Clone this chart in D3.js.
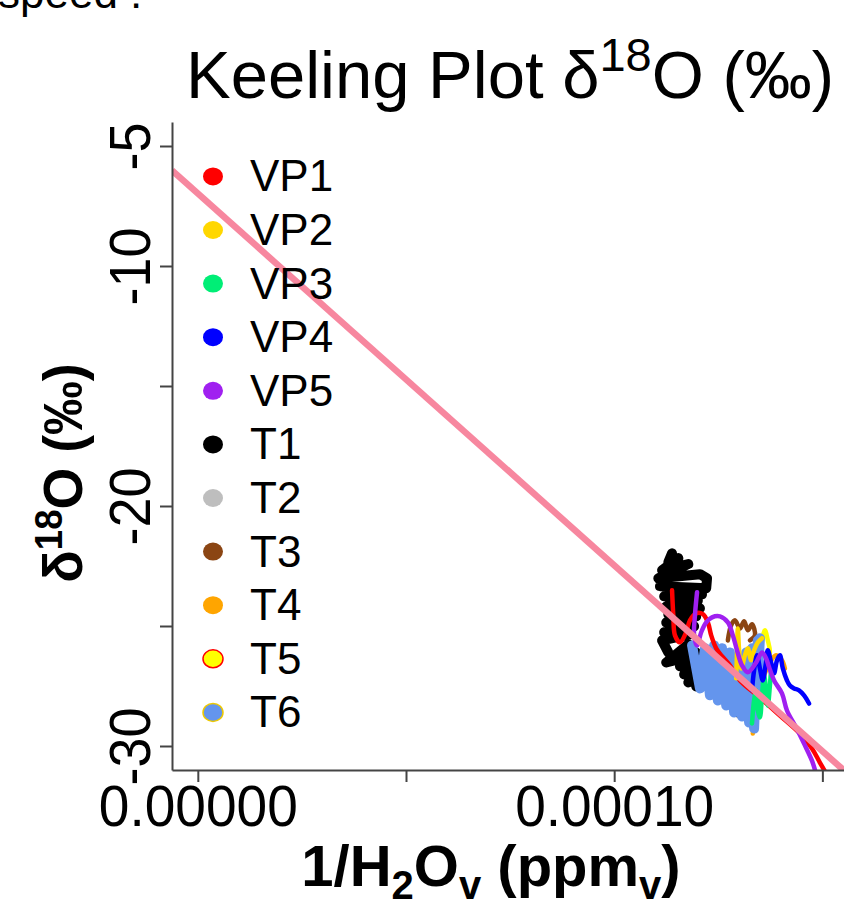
<!DOCTYPE html>
<html>
<head>
<meta charset="utf-8">
<script src="https://cdn.jsdelivr.net/npm/d3@7"></script>
<style>
  body { margin: 0; background: #fff; }
  svg { display: block; }
  text { font-family: "Liberation Sans", Arial, sans-serif; fill: #000; }
</style>
</head>
<body>
<svg id="chart" width="844" height="912"></svg>
<script>
// legend / series names and colours
var seriesNames = ["VP1", "VP2", "VP3", "VP4", "VP5", "T1", "T2", "T3", "T4", "T5", "T6"];
var seriesColors = ["#ff0000", "#ffd700", "#00ee76", "#0000ff", "#a020f0",
                    "#000000", "#bebebe", "#8b4513", "#ffa500", "#ffff00", "#6495ed"];
var seriesBorders = [null, null, null, null, null, null, null, null, null, "#ff0000", "#eec900"];

// axis ticks (R drops the labels that would overlap)
var xTicks = [0, 0.00005, 0.0001, 0.00015];
var xTickLabels = ["0.00000", "", "0.00010", ""];
var yTicks = [-5, -10, -15, -20, -25, -30];
var yTickLabels = ["-5", "-10", "", "-20", "", "-30"];

// keeling regression line: d18O = a + b * (1/H2O)
var fitIntercept = -6.98;
var fitSlope = -154900;

// traces [1/H2O (ppm^-1), d18O (permil)]
var vp1 = [[1.139e-4,-23.51],[1.142e-4,-24.55],[1.146e-4,-25.39],[1.158e-4,-25.68],[1.173e-4,-25.26],
  [1.182e-4,-24.76],[1.197e-4,-24.47],[1.213e-4,-24.51],[1.225e-4,-24.85],[1.233e-4,-25.39],
  [1.245e-4,-25.93],[1.259e-4,-26.26],[1.278e-4,-26.64],[1.302e-4,-27.27],[1.350e-4,-27.98],
  [1.398e-4,-28.73],[1.446e-4,-29.48],[1.475e-4,-30.10],[1.494e-4,-30.69],[1.508e-4,-31.11]];
var vp2 = [[1.293e-4,-27.18],[1.295e-4,-26.10],[1.297e-4,-25.10],[1.300e-4,-26.01],[1.305e-4,-26.77],
  [1.314e-4,-26.22],[1.321e-4,-25.93],[1.329e-4,-26.43],[1.336e-4,-26.01],[1.345e-4,-25.68],
  [1.355e-4,-25.51]];
var vp3 = [[1.331e-4,-29.06],[1.336e-4,-28.10],[1.341e-4,-27.68],[1.345e-4,-28.52],[1.350e-4,-28.81],
  [1.355e-4,-27.89],[1.360e-4,-27.06],[1.365e-4,-27.68],[1.369e-4,-28.31],[1.374e-4,-27.48],
  [1.377e-4,-26.77]];
var vp4 = [[1.331e-4,-27.68],[1.336e-4,-26.85],[1.343e-4,-26.22],[1.350e-4,-26.77],[1.357e-4,-27.27],
  [1.365e-4,-26.43],[1.369e-4,-26.01],[1.377e-4,-26.52],[1.384e-4,-26.97],[1.391e-4,-26.43],
  [1.398e-4,-26.22],[1.405e-4,-26.77],[1.415e-4,-27.27],[1.422e-4,-27.48],[1.432e-4,-27.60],
  [1.444e-4,-27.68],[1.456e-4,-27.89],[1.468e-4,-28.23]];
var vp5 = [[1.199e-4,-23.59],[1.194e-4,-24.55],[1.192e-4,-25.39],[1.199e-4,-25.81],[1.209e-4,-25.26],
  [1.221e-4,-24.85],[1.235e-4,-24.64],[1.254e-4,-24.60],[1.273e-4,-24.85],[1.285e-4,-25.39],
  [1.295e-4,-26.01],[1.307e-4,-26.64],[1.321e-4,-26.93],[1.341e-4,-26.52],[1.355e-4,-26.10],
  [1.365e-4,-26.35],[1.372e-4,-26.72],[1.384e-4,-27.27],[1.403e-4,-27.81],[1.415e-4,-28.52],
  [1.437e-4,-29.23],[1.456e-4,-29.90],[1.475e-4,-30.61],[1.484e-4,-31.11]];
var t1 = [[1.139e-4,-21.97],[1.130e-4,-22.34],[1.154e-4,-22.17],[1.115e-4,-22.68],[1.178e-4,-22.42],
  [1.106e-4,-23.01],[1.206e-4,-22.84],[1.223e-4,-23.01],[1.221e-4,-23.43],[1.110e-4,-23.34],
  [1.211e-4,-23.68],[1.120e-4,-23.76],[1.201e-4,-23.93],[1.125e-4,-24.18],[1.206e-4,-24.26],
  [1.130e-4,-24.51],[1.197e-4,-24.60],[1.125e-4,-24.85],[1.192e-4,-25.01],[1.120e-4,-25.26],
  [1.182e-4,-25.35],[1.115e-4,-25.60],[1.130e-4,-26.10],[1.144e-4,-26.43],[1.125e-4,-26.52],
  [1.178e-4,-25.76],[1.158e-4,-26.68],[1.197e-4,-26.10],[1.168e-4,-27.02],[1.206e-4,-26.60],
  [1.178e-4,-27.35],[1.211e-4,-27.10],[1.197e-4,-27.52],[1.221e-4,-27.27],[1.235e-4,-27.68],
  [1.254e-4,-27.27],[1.269e-4,-28.10],[1.283e-4,-27.77],[1.297e-4,-28.60],[1.312e-4,-28.44]];
var t2 = [[1.254e-4,-26.52],[1.273e-4,-26.93],[1.293e-4,-26.77]];
var t3 = [[1.273e-4,-25.60],[1.281e-4,-24.97],[1.290e-4,-24.76],[1.302e-4,-25.10],[1.312e-4,-24.80],
  [1.321e-4,-25.18],[1.331e-4,-24.93],[1.338e-4,-25.39],[1.326e-4,-25.60]];
var t4 = [[1.333e-4,-29.48],[1.338e-4,-28.73],[1.343e-4,-28.10],[1.350e-4,-27.68],[1.360e-4,-27.06],
  [1.374e-4,-26.52],[1.389e-4,-26.22],[1.403e-4,-26.43],[1.410e-4,-26.77]];
var t5 = [[1.350e-4,-26.10],[1.355e-4,-25.60],[1.362e-4,-25.18],[1.369e-4,-25.60],[1.374e-4,-26.10],
  [1.367e-4,-26.43]];
var t6 = [[1.187e-4,-25.81],[1.206e-4,-27.60],[1.218e-4,-25.93],[1.230e-4,-27.89],[1.240e-4,-25.81],
  [1.249e-4,-28.10],[1.259e-4,-25.93],[1.269e-4,-28.31],[1.278e-4,-26.10],[1.288e-4,-28.60],
  [1.297e-4,-26.43],[1.307e-4,-28.77],[1.317e-4,-26.10],[1.324e-4,-29.02],[1.331e-4,-25.93],
  [1.336e-4,-29.27],[1.345e-4,-25.60],[1.341e-4,-28.60],[1.350e-4,-25.51]];

var traces = {VP1: vp1, VP2: vp2, VP3: vp3, VP4: vp4, VP5: vp5, T1: t1, T2: t2, T3: t3, T4: t4, T5: t5, T6: t6};
// R drew the towers first and the vertical profiles on top
var drawOrder = ["T1", "T2", "T3", "T4", "T5", "T6", "VP1", "VP2", "VP3", "VP4", "VP5"];
// the dense tower records pile up into solid blobs
var thickTraces = ["T1", "T6"];

var svg = d3.select("#chart");
var plotLeft = 172, plotRight = 869, plotTop = 122, plotBottom = 770;

var x = d3.scaleLinear().domain([-0.0000062, 0.0001612]).range([plotLeft, plotRight]);
var y = d3.scaleLinear().domain([-31, -4]).range([plotBottom, plotTop]);

function squeeze(sel, k) {
  // R's helvetica is a bit narrower than Liberation Sans
  sel.attr("transform", function() {
    var t = d3.select(this).attr("data-t") || "";
    return t + " scale(" + k + ",1)";
  });
}

// stray text from the page above the figure
svg.append("text").attr("x", -2).attr("y", 8).attr("font-size", 44).text("speed :");

// title
var title = svg.append("text").attr("text-anchor", "middle").attr("font-size", 67)
  .attr("data-t", "translate(510,98)");
title.append("tspan").text("Keeling Plot \u03b4");
title.append("tspan").attr("font-size", 47).attr("dy", -27).text("18");
title.append("tspan").attr("dy", 27).text("O (\u2030)");
squeeze(title, 1.0);

svg.append("clipPath").attr("id", "plotclip").append("rect")
  .attr("x", plotLeft).attr("y", plotTop)
  .attr("width", plotRight - plotLeft).attr("height", plotBottom - plotTop);

var plot = svg.append("g").attr("clip-path", "url(#plotclip)");

var smooth = d3.line().x(function(d) { return x(d[0]); }).y(function(d) { return y(d[1]); })
  .curve(d3.curveCatmullRom.alpha(0.5));
var straight = d3.line().x(function(d) { return x(d[0]); }).y(function(d) { return y(d[1]); });

drawOrder.forEach(function(name) {
  var i = seriesNames.indexOf(name);
  var thick = thickTraces.indexOf(name) >= 0;
  plot.append("path").datum(traces[name])
    .attr("fill", "none")
    .attr("stroke", seriesColors[i])
    .attr("stroke-width", thick ? 10 : 4.5)
    .attr("stroke-linejoin", "round")
    .attr("stroke-linecap", "round")
    .attr("d", thick ? straight : smooth);
});

// regression line across the whole panel
var fitX = x.domain();
plot.append("line")
  .attr("x1", x(fitX[0])).attr("y1", y(fitIntercept + fitSlope * fitX[0]))
  .attr("x2", x(fitX[1])).attr("y2", y(fitIntercept + fitSlope * fitX[1]))
  .attr("stroke", "#f7879f").attr("stroke-width", 6.5);

// axes
var yAxis = svg.append("g").attr("transform", "translate(" + plotLeft + ",0)")
  .call(d3.axisLeft(y).tickValues(yTicks).tickSize(12).tickSizeOuter(0)
    .tickFormat(function(d, i) { return yTickLabels[i]; }));
var xAxis = svg.append("g").attr("transform", "translate(0," + plotBottom + ")")
  .call(d3.axisBottom(x).tickValues(xTicks).tickSize(12).tickSizeOuter(0)
    .tickFormat(function(d, i) { return xTickLabels[i]; }));

[yAxis, xAxis].forEach(function(ax) {
  ax.selectAll("path.domain, line").attr("stroke", "#444").attr("stroke-width", 2);
  ax.selectAll("text").attr("font-size", 58).attr("fill", "#000")
    .style("font-family", '"Liberation Sans", Arial, sans-serif');
});

yAxis.selectAll(".tick text")
  .attr("x", null).attr("dy", null).attr("y", 0)
  .attr("text-anchor", "middle")
  .attr("data-t", "translate(-22,0) rotate(-90)")
  .call(squeeze, 0.93);

xAxis.selectAll(".tick text")
  .attr("y", 0).attr("dy", null)
  .attr("data-t", "translate(0,56)")
  .call(squeeze, 0.95);

// axis titles
var ylab = svg.append("text").attr("text-anchor", "middle").attr("font-size", 56)
  .attr("font-weight", "bold").attr("data-t", "translate(82,473) rotate(-90)");
ylab.append("tspan").text("\u03b4");
ylab.append("tspan").attr("font-size", 38).attr("dy", -20).text("18");
ylab.append("tspan").attr("dy", 20).text("O (\u2030)");
squeeze(ylab, 0.96);

var xlab = svg.append("text").attr("text-anchor", "middle").attr("font-size", 58)
  .attr("font-weight", "bold").attr("data-t", "translate(491,886)");
xlab.append("tspan").text("1/H");
xlab.append("tspan").attr("font-size", 40).attr("dy", 13).text("2");
xlab.append("tspan").attr("dy", -13).text("O");
xlab.append("tspan").attr("font-size", 40).attr("dy", 13).text("v");
xlab.append("tspan").attr("dy", -13).text(" (ppm");
xlab.append("tspan").attr("font-size", 40).attr("dy", 13).text("v");
xlab.append("tspan").attr("dy", -13).text(")");
squeeze(xlab, 1.0);

// legend
var legend = svg.append("g");
seriesNames.forEach(function(name, i) {
  var cy = 176.4 + i * 53.6;
  legend.append("ellipse")
    .attr("cx", 213).attr("cy", cy).attr("rx", 10).attr("ry", 9)
    .attr("fill", seriesColors[i])
    .attr("stroke", seriesBorders[i] || "none")
    .attr("stroke-width", 1.5);
  legend.append("text").attr("x", 250).attr("y", cy + 15)
    .attr("font-size", 44).text(name);
});
</script>
</body>
</html>
